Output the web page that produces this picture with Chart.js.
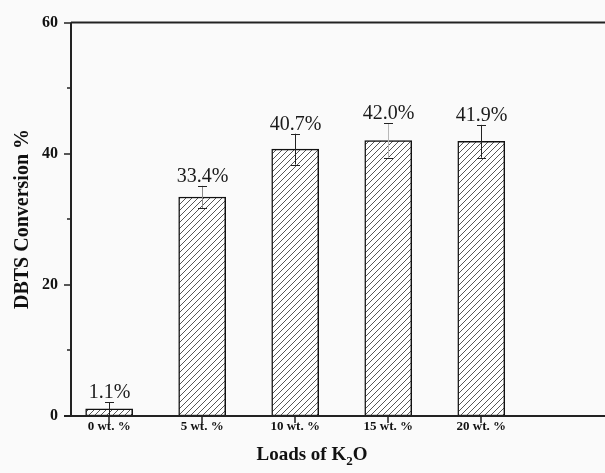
<!DOCTYPE html>
<html>
<head>
<meta charset="utf-8">
<script src="https://cdn.jsdelivr.net/npm/chart.js@4/dist/chart.umd.min.js"></script>
<style>
  html, body { margin: 0; padding: 0; background: #fafafa; }
  #c { display: block; }
</style>
</head>
<body>
<canvas id="c" width="605" height="473"></canvas>
<script>
// K2O loading levels and measured DBTS conversion
const categories = ['0 wt. %', '5 wt. %', '10 wt. %', '15 wt. %', '20 wt. %'];
const loads = [0, 5, 10, 15, 20];
const conversion = [1.1, 33.4, 40.7, 42.0, 41.9];
const errors = [1.0, 1.7, 2.35, 2.65, 2.5];
const valueLabels = ['1.1%', '33.4%', '40.7%', '42.0%', '41.9%'];
const yTicks = [0, 20, 40, 60];
const yMinorTicks = [10, 30, 50];

const SERIF = '"Liberation Serif", "Times New Roman", serif';
const errStroke = ['#222', '#8a8a8a', '#222', '#b8b8b8', '#222'];

// diagonal hatch fill for the bars
function hatchPattern() {
  const s = 6;
  const t = document.createElement('canvas');
  t.width = s; t.height = s;
  const g = t.getContext('2d');
  g.fillStyle = '#ffffff';
  g.fillRect(0, 0, s, s);
  g.strokeStyle = '#444';
  g.lineWidth = 0.9;
  g.beginPath();
  g.moveTo(0, s); g.lineTo(s, 0);
  g.moveTo(-1, 1); g.lineTo(1, -1);
  g.moveTo(s - 1, s + 1); g.lineTo(s + 1, s - 1);
  g.stroke();
  return document.getElementById('c').getContext('2d').createPattern(t, 'repeat');
}

const decorations = {
  id: 'decorations',
  afterDraw(chart) {
    const ctx = chart.ctx;
    const a = chart.chartArea;
    const xs = chart.scales.x, ys = chart.scales.y;
    ctx.save();

    // axis frame: left, top and bottom lines
    ctx.strokeStyle = '#222';
    ctx.lineWidth = 2;
    ctx.beginPath();
    ctx.moveTo(a.left, a.top); ctx.lineTo(a.right, a.top);
    ctx.moveTo(a.left, a.top); ctx.lineTo(a.left, a.bottom);
    ctx.moveTo(a.left - 7, a.bottom); ctx.lineTo(a.right, a.bottom);
    ctx.stroke();

    // y ticks
    ctx.lineWidth = 1.5;
    ctx.beginPath();
    yTicks.forEach(v => {
      const y = Math.round(ys.getPixelForValue(v));
      ctx.moveTo(a.left - 7, y); ctx.lineTo(a.left, y);
    });
    yMinorTicks.forEach(v => {
      const y = Math.round(ys.getPixelForValue(v));
      ctx.moveTo(a.left - 4, y); ctx.lineTo(a.left, y);
    });
    // x ticks
    loads.forEach(v => {
      const x = Math.round(xs.getPixelForValue(v));
      ctx.moveTo(x, a.bottom); ctx.lineTo(x, a.bottom + 7);
    });
    ctx.stroke();

    // error bars and value labels
    ctx.font = '20px ' + SERIF;
    ctx.textAlign = 'center';
    ctx.textBaseline = 'alphabetic';
    loads.forEach((v, i) => {
      const x = Math.round(xs.getPixelForValue(v)) + 0.5;
      const yTop = ys.getPixelForValue(conversion[i] + errors[i]);
      const yBot = ys.getPixelForValue(Math.max(0, conversion[i] - errors[i]));
      ctx.lineWidth = 1;
      ctx.strokeStyle = errStroke[i];
      ctx.beginPath();
      ctx.moveTo(x, yTop); ctx.lineTo(x, yBot);
      ctx.stroke();
      ctx.strokeStyle = '#222';
      ctx.beginPath();
      ctx.moveTo(x - 4.5, Math.round(yTop) + 0.5); ctx.lineTo(x + 4.5, Math.round(yTop) + 0.5);
      ctx.moveTo(x - 4.5, Math.round(yBot) + 0.5); ctx.lineTo(x + 4.5, Math.round(yBot) + 0.5);
      ctx.stroke();
      ctx.fillStyle = '#1a1a1a';
      ctx.fillText(valueLabels[i], x, yTop - 4);
    });

    // y axis title
    ctx.fillStyle = '#111';
    ctx.font = 'bold 20px ' + SERIF;
    ctx.translate(28, 219);
    ctx.rotate(-Math.PI / 2);
    ctx.textAlign = 'center';
    ctx.fillText('DBTS Conversion %', 0, 0);
    ctx.setTransform(1, 0, 0, 1, 0, 0);

    // x axis title with subscript
    const big = 'bold 19px ' + SERIF, small = 'bold 13px ' + SERIF;
    ctx.textAlign = 'left';
    ctx.font = big;
    const w1 = ctx.measureText('Loads of K').width;
    const w3 = ctx.measureText('O').width;
    ctx.font = small;
    const w2 = ctx.measureText('2').width;
    let x0 = 312 - (w1 + w2 + w3) / 2;
    const base = 460;
    ctx.font = big;
    ctx.fillText('Loads of K', x0, base);
    ctx.font = small;
    ctx.fillText('2', x0 + w1, base + 5);
    ctx.font = big;
    ctx.fillText('O', x0 + w1 + w2, base);

    ctx.restore();
  }
};

new Chart(document.getElementById('c'), {
  type: 'bar',
  data: {
    datasets: [{
      data: loads.map((v, i) => ({ x: v, y: conversion[i] })),
      backgroundColor: hatchPattern(),
      borderColor: '#111',
      borderWidth: 1.5,
      borderSkipped: false,
      barThickness: 47
    }]
  },
  options: {
    responsive: false,
    animation: false,
    devicePixelRatio: 1,
    layout: { padding: { top: 16, left: 0, right: 0, bottom: 0 } },
    plugins: { legend: { display: false }, tooltip: { enabled: false } },
    scales: {
      x: {
        type: 'linear',
        offset: false,
        min: -2.05,
        max: 26.65,
        grid: { display: false, drawTicks: false, offset: false },
        border: { display: false },
        afterBuildTicks: s => { s.ticks = loads.map(v => ({ value: v })); },
        afterFit: s => { s.height = 57; },
        ticks: {
          autoSkip: false,
          maxRotation: 0,
          padding: 3,
          color: '#111',
          font: { family: SERIF, size: 13, weight: 'bold' },
          callback: v => categories[loads.indexOf(v)]
        }
      },
      y: {
        min: 0,
        max: 60,
        grid: { display: false, drawTicks: false },
        border: { display: false },
        afterBuildTicks: s => { s.ticks = yTicks.map(v => ({ value: v })); },
        afterFit: s => { s.width = 71; },
        ticks: {
          padding: 13,
          color: '#111',
          font: { family: SERIF, size: 16, weight: 'bold' }
        }
      }
    }
  },
  plugins: [decorations]
});
</script>
</body>
</html>
